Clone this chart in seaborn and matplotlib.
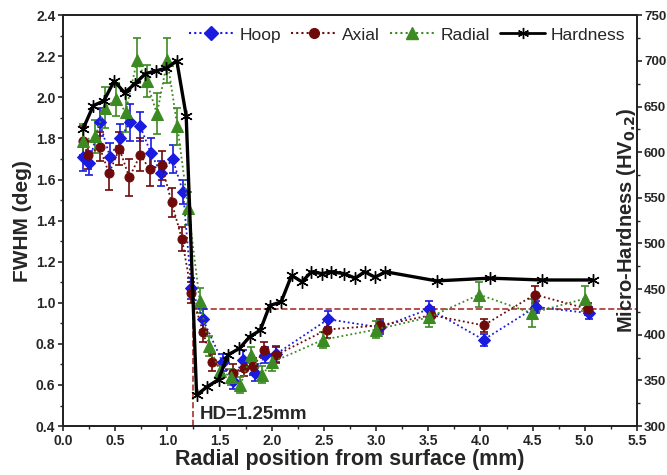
import numpy as np
import matplotlib
matplotlib.use('Agg')
import matplotlib.pyplot as plt
import seaborn as sns
from matplotlib.lines import Line2D

# FWHM data (deg) vs radial position (mm)
hoop_x = [0.19, 0.25, 0.35, 0.45, 0.55, 0.64, 0.74, 0.84, 0.94, 1.05, 1.15, 1.23, 1.34,
          1.53, 1.63, 1.72, 1.84, 1.94, 2.04, 2.54, 3.04, 3.51, 4.03, 4.53, 5.04]
hoop_y = [1.71, 1.68, 1.88, 1.71, 1.80, 1.88, 1.86, 1.73, 1.63, 1.70, 1.54, 1.07, 0.92,
          0.71, 0.62, 0.72, 0.66, 0.745, 0.75, 0.92, 0.88, 0.97, 0.82, 0.98, 0.95]
hoop_err = [0.07, 0.06, 0.07, 0.07, 0.07, 0.09, 0.07, 0.07, 0.06, 0.07, 0.06, 0.05, 0.05,
            0.04, 0.04, 0.05, 0.04, 0.04, 0.04, 0.04, 0.03, 0.04, 0.03, 0.03, 0.03]

axial_x = [0.19, 0.24, 0.35, 0.44, 0.54, 0.635, 0.74, 0.83, 0.945, 1.04, 1.14, 1.23, 1.34,
           1.43, 1.63, 1.73, 1.82, 1.93, 2.04, 2.53, 3.04, 3.53, 4.03, 4.52, 5.03]
axial_y = [1.79, 1.72, 1.76, 1.63, 1.75, 1.61, 1.72, 1.65, 1.67, 1.49, 1.31, 1.05, 0.86,
           0.71, 0.66, 0.685, 0.69, 0.77, 0.745, 0.87, 0.89, 0.94, 0.89, 1.04, 0.97]
axial_err = [0.07, 0.07, 0.07, 0.08, 0.08, 0.09, 0.08, 0.08, 0.07, 0.07, 0.06, 0.05, 0.05,
             0.04, 0.04, 0.04, 0.04, 0.04, 0.04, 0.04, 0.03, 0.04, 0.03, 0.04, 0.03]

radial_x = [0.195, 0.31, 0.40, 0.51, 0.60, 0.71, 0.80, 0.90, 1.0, 1.095, 1.20, 1.31, 1.40,
            1.50, 1.61, 1.70, 1.80, 1.91, 2.0, 2.49, 3.0, 3.51, 3.99, 4.49, 5.0]
radial_y = [1.79, 1.81, 1.95, 1.99, 1.93, 2.18, 2.08, 1.92, 2.18, 1.86, 1.46, 1.01, 0.79,
            0.67, 0.64, 0.60, 0.745, 0.65, 0.71, 0.82, 0.87, 0.93, 1.04, 0.95, 1.02]
radial_err = [0.08, 0.08, 0.10, 0.08, 0.10, 0.11, 0.08, 0.10, 0.11, 0.09, 0.08, 0.06, 0.05,
              0.04, 0.04, 0.04, 0.04, 0.04, 0.04, 0.04, 0.04, 0.05, 0.06, 0.07, 0.06]

# Micro-hardness (HV0.2)
hard_x = [0.19, 0.29, 0.39, 0.49, 0.59, 0.69, 0.79, 0.89, 0.99, 1.09, 1.18, 1.28, 1.38,
          1.49, 1.58, 1.69, 1.79, 1.89, 1.98, 2.09, 2.19, 2.29, 2.38, 2.48, 2.57, 2.69,
          2.80, 2.89, 2.99, 3.09, 3.58, 4.09, 4.59, 5.08]
hard_y = [625, 651, 656, 678, 665, 675, 686, 689, 692, 700, 640, 334, 343,
          351, 378, 385, 398, 405, 432, 436, 465, 458, 469, 467, 469, 467,
          462, 469, 463, 469, 459, 462, 460, 460]

hd_depth = 1.25
hd_level = 0.97

sns.set_style('ticks')
plt.rcParams['font.family'] = ['Liberation Sans', 'DejaVu Sans']

blue = '#1a1ae0'
red = '#6e0a0a'
green = '#3c8a22'

fig = plt.figure(figsize=(6.67, 4.75), dpi=100)
ax = fig.add_axes([0.0945, 0.103, 0.8605, 0.865])
ax2 = ax.twinx()

series = [
    ('Hoop', hoop_x, hoop_y, hoop_err, blue, 'D', 6),
    ('Axial', axial_x, axial_y, axial_err, red, 'o', 6.5),
    ('Radial', radial_x, radial_y, radial_err, green, '^', 8),
]
for name, xs, ys, es, col, mk, ms in series:
    ax.errorbar(xs, ys, yerr=es, fmt='none', ecolor=col, elinewidth=1.2,
                capsize=3, capthick=1.2, zorder=2)
    sns.lineplot(x=xs, y=ys, ax=ax, color=col, linestyle=(0, (1, 1.5)), linewidth=1.3,
                 marker=mk, markersize=ms, markeredgecolor=col, markerfacecolor=col,
                 zorder=3)

# hardness depth markers
ax.plot([hd_depth, hd_depth], [0.4, hd_level], color='#a83232', linestyle='--',
        linewidth=1.2, zorder=1)
ax.plot([hd_depth, 5.5], [hd_level, hd_level], color='#a83232', linestyle='--',
        linewidth=1.2, zorder=1)
ax.text(1.31, 0.455, 'HD=1.25mm', fontsize=13.5, fontweight='bold', va='center')

star = (6, 2, 0)
sns.lineplot(x=hard_x, y=hard_y, ax=ax2, color='black', linewidth=2.4,
             marker=star, markersize=9, markeredgecolor='black', markeredgewidth=1.0)

ax.set_xlim(0, 5.5)
ax.set_ylim(0.4, 2.4)
ax2.set_ylim(300, 750)
ax.set_xticks(np.arange(0, 5.51, 0.5))
ax.set_xticks(np.arange(0.25, 5.5, 0.5), minor=True)
ax.set_yticks(np.arange(0.4, 2.41, 0.2))
ax.set_yticks(np.arange(0.5, 2.4, 0.2), minor=True)
ax2.set_yticks(np.arange(300, 751, 50))
ax2.set_yticks(np.arange(325, 750, 50), minor=True)

for a in (ax, ax2):
    a.tick_params(which='major', direction='out', length=3.5, width=1.2, labelsize=10, pad=2)
    a.tick_params(which='minor', direction='out', length=2.5, width=1.0)
    for lab in a.get_xticklabels() + a.get_yticklabels():
        lab.set_fontweight('bold')
    for sp in a.spines.values():
        sp.set_linewidth(1.3)
        sp.set_color('#222222')
ax2.tick_params(axis='y', which='major', pad=1.5, labelsize=9.5)

ax.set_xlabel('Radial position from surface (mm)', fontsize=15.5, fontweight='bold', labelpad=1)
ax.set_ylabel('FWHM (deg)', fontsize=15, fontweight='bold', labelpad=3)
ax2.set_ylabel(r'Micro-Hardness (HV$_{\mathbf{0.2}}$)', fontsize=14.5, fontweight='bold')
ax2.yaxis.set_label_coords(0.962, 0.5)

handles = [
    Line2D([], [], color=blue, linestyle=(0, (1, 1.5)), marker='D', markersize=7),
    Line2D([], [], color=red, linestyle=(0, (1, 1.5)), marker='o', markersize=7),
    Line2D([], [], color=green, linestyle=(0, (1, 1.5)), marker='^', markersize=8),
    Line2D([], [], color='black', linewidth=2, marker=star, markersize=8),
]
ax2.legend(handles, ['Hoop', 'Axial', 'Radial', 'Hardness'], loc='upper right',
           ncol=4, frameon=False, fontsize=12.5, handlelength=2.6, handletextpad=0.3,
           columnspacing=0.6, borderaxespad=0.3)

fig.savefig('out.png', dpi=100, facecolor='white')
